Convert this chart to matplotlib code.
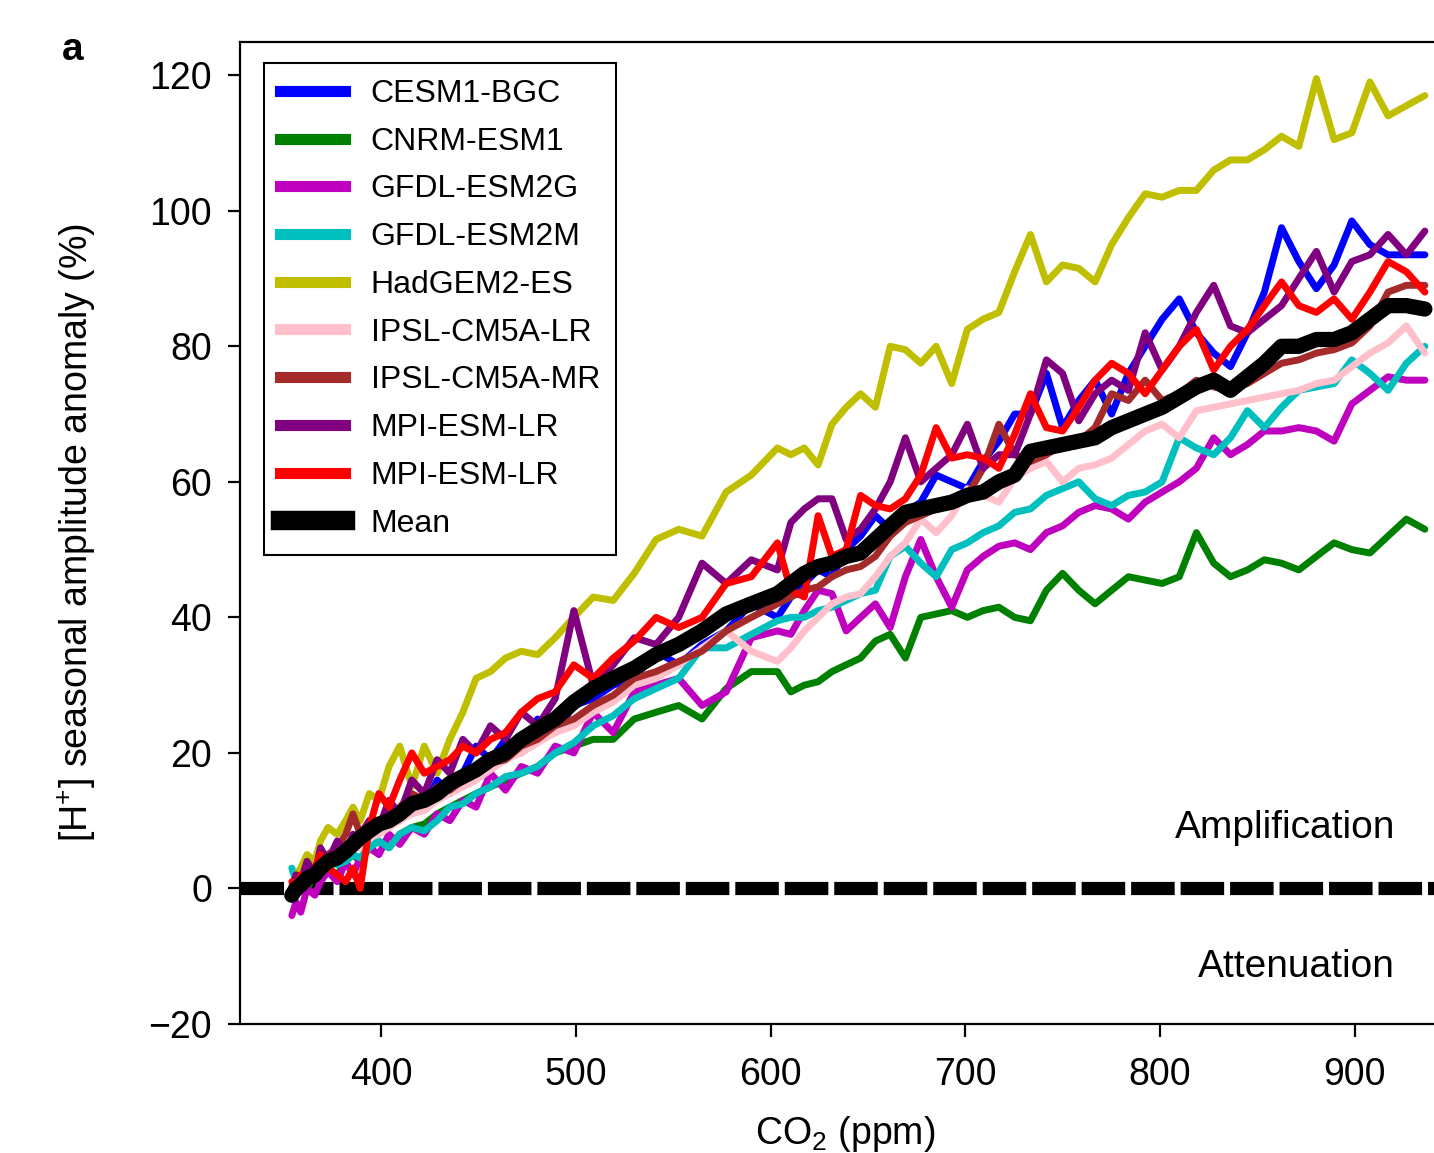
import matplotlib
matplotlib.use('Agg')
import matplotlib.pyplot as plt
from matplotlib.lines import Line2D

plt.rcParams['font.family'] = ['Liberation Sans', 'DejaVu Sans']
plt.rcParams['mathtext.default'] = 'regular'

# ---------------- data ----------------
co2 = [354.2, 356.4, 358.8, 362.0, 366.0, 368.9, 372.8, 377.5, 381.9, 385.6,
       389.3, 394.0, 398.9, 404.1, 409.6, 415.8, 422.2, 428.8, 435.3, 442.0,
       448.8, 456.2, 463.9, 472.0, 480.4, 489.4, 499.0, 508.9, 519.2, 530.0,
       541.2, 552.8, 564.8, 577.2, 590.1, 603.5, 610.4, 617.3, 624.4, 631.5,
       638.8, 646.2, 653.8, 661.4, 669.2, 677.1, 685.0, 693.0, 701.0, 709.1,
       717.2, 725.3, 733.4, 741.6, 749.9, 758.2, 766.6, 775.1, 783.7, 792.3,
       801.0, 809.8, 818.6, 827.5, 836.1, 844.8, 853.5, 862.3, 871.2, 880.2,
       889.3, 898.4, 907.7, 917.0, 926.4, 935.9]

cesm1_bgc = [0, 1, 0, 2, 3, 2.5, 5, 4, 6, 7,
             6.5, 9, 10, 11, 10, 13, 12, 16, 14, 17,
             21, 19, 22, 20, 25, 23, 27, 28, 30, 31,
             35, 33, 36, 38, 42, 40, 43, 45, 47, 46,
             50, 52, 55, 53, 55.5, 57, 61, 60, 59, 63,
             66, 70, 70, 76, 68, 72, 75, 70, 76, 80,
             84, 87, 82, 79, 77, 82, 88, 97.5, 92.5, 88.5,
             92, 98.5, 95, 93.5, 93.5, 93.5]

cnrm_esm1 = [0, -1, 1, 0, 2, 1.5, 3, 2, 4, 5,
             4, 6, 7, 6, 8, 9, 9.5, 11, 12, 13,
             14, 15, 16, 17, 18, 20, 21, 22, 22, 25,
             26, 27, 25, 29.5, 32, 32, 29, 30, 30.5, 32,
             33, 34, 36.5, 37.5, 34, 40, 40.5, 41, 40, 41,
             41.5, 40, 39.5, 44, 46.5, 44, 42, 44, 46, 45.5,
             45, 46, 52.5, 48, 46, 47, 48.5, 48, 47, 49,
             51, 50, 49.5, 52, 54.5, 53]

gfdl_esm2g = [-4, -2, -3.5, 0, -1, 1, 2.5, 1, 4, 2,
              4.5, 6, 5, 8, 6.5, 9, 8, 11, 10, 13,
              12, 17, 14.5, 18, 17, 21, 20, 26, 23, 29,
              30, 31, 27, 29, 37, 38, 37.5, 41, 44, 43.5,
              38, 40, 42, 38.5, 46, 51.5, 46, 41.5, 47, 49,
              50.5, 51, 50, 52.5, 53.5, 55.5, 56.5, 56, 54.5, 57,
              58.5, 60, 62, 66.5, 64, 65.5, 67.5, 67.5, 68, 67.5,
              66, 71.5, 73.5, 75.5, 75, 75]

gfdl_esm2m = [3, 1, 2, 1.5, 3, 2, 4, 3.5, 4, 5,
              4.5, 6, 7, 6, 8, 9, 8.5, 10, 12, 12.5,
              14, 15, 16.5, 17, 18, 20, 21.5, 24, 25.5, 28,
              29.5, 31, 35.5, 35.5, 37.5, 39.5, 40, 40, 41, 41.5,
              42.5, 43.5, 44, 49, 50.5, 48, 46, 50, 51, 52.5,
              53.5, 55.5, 56, 58, 59, 60, 57.5, 56.5, 58, 58.5,
              60, 66.5, 65, 64, 66.5, 70.5, 68, 71, 73.5, 74,
              74.5, 78, 76, 73.5, 77.5, 80]

hadgem2_es = [0.5, 2, 3, 5, 4, 7, 9, 8, 10, 12,
              10, 14, 13, 18, 21, 15, 21, 17, 22, 26,
              31, 32, 34, 35, 34.5, 37, 40, 43, 42.5, 46.5,
              51.5, 53, 52, 58.5, 61, 65, 64, 65, 62.5, 68.5,
              71, 73, 71, 80, 79.5, 77.5, 80, 74.5, 82.5, 84,
              85, 91, 96.5, 89.5, 92, 91.5, 89.5, 95, 99, 102.5,
              102, 103, 103, 106, 107.5, 107.5, 109, 111, 109.5, 119.5,
              110.5, 111.5, 119, 114, 115.5, 117]

ipsl_cm5a_lr = [0, 1, 0.5, 2, 1.5, 3, 3.5, 4, 5, 6,
                6, 7.5, 8, 9, 10, 11, 11.5, 13, 14, 15,
                16, 17.5, 19, 20, 21.5, 23, 24, 26, 27.5, 30,
                31, 33, 35.5, 38, 35, 33.5, 35.5, 38, 40, 42,
                43, 43.5, 46, 49, 51, 54.5, 52.5, 55, 59, 58,
                57, 60.5, 62, 63, 60, 62, 62.5, 63.5, 65.5, 67.5,
                68.5, 66.5, 70.5, 71, 71.5, 72, 72.5, 73, 73.5, 74.5,
                75, 77, 79, 80.5, 83, 79]

ipsl_cm5a_mr = [0, 2, 1, 3, 2.5, 4, 5, 6, 8, 11,
                8, 10, 9, 11, 12, 14, 13, 15, 14.5, 16,
                17, 18.5, 19, 21, 22, 24, 25, 27, 28.5, 31,
                32, 33.5, 35, 38, 40, 42, 43, 44, 44.5, 46,
                47, 47.5, 49, 52, 54, 55, 56, 57, 58, 62,
                68.5, 64, 63, 64, 65.5, 66, 68, 73, 72, 75,
                72, 73, 75, 74, 73.5, 74.5, 76, 77.5, 78, 79,
                79.5, 80.5, 83, 88, 89, 89]

mpi_esm_lr_a = [0, 2, 1, 4, 2, 6, 4, 7, 5, 8,
                7, 10, 9, 13, 11, 16, 14, 19, 17, 22,
                20, 24, 22, 26, 24, 28, 41, 30, 33, 37,
                36, 40, 48, 45, 48.5, 47, 54, 56, 57.5, 57.5,
                51.5, 53, 56, 60, 66.5, 60, 62, 64, 68.5, 62,
                64, 64, 70, 78, 76, 69, 73, 75, 73.5, 82,
                76.5, 80, 85, 89, 83, 82, 84, 86, 90, 94,
                88, 92.5, 93.5, 96.5, 93.5, 97]

mpi_esm_lr_b = [1, 0, 2, 1, 3, 5, 3, 2, 1, 3,
                0, 9, 14, 12, 16, 20, 17, 18, 19, 21,
                20, 22, 23, 26, 28, 29, 33, 31, 34, 36.5,
                40, 38.5, 40, 45, 46, 51, 44, 43, 55, 49,
                50, 58, 56.5, 56, 57.5, 61, 68, 63.5, 64, 63.5,
                62, 67, 73, 68, 67.5, 71, 75, 77.5, 76, 73,
                76.5, 80, 82.5, 76.5, 80, 82.5, 86, 89.5, 86, 85,
                87, 84, 88, 92.5, 91, 88]

ensemble_mean = [-1, 0, 0.5, 1.5, 2, 3, 4, 4.5, 5.5, 6.5,
                 7.5, 8.5, 9.5, 10, 11, 12.5, 13, 14, 15.5, 16.5,
                 17.5, 19, 20, 22, 23.5, 25, 27.5, 29.5, 31, 32.5,
                 34.5, 36, 38, 40.5, 42, 43.5, 45, 46.5, 47.5, 48,
                 49, 49.5, 51.5, 53.5, 55.5, 56, 56.5, 57, 58, 58.5,
                 60, 61, 64.5, 65, 65.5, 66, 66.5, 68, 69, 70,
                 71, 72.5, 74, 75, 73.5, 75.5, 77.5, 80, 80, 81,
                 81, 82, 84, 86, 86, 85.5]

model_names = ['CESM1-BGC', 'CNRM-ESM1', 'GFDL-ESM2G', 'GFDL-ESM2M', 'HadGEM2-ES',
               'IPSL-CM5A-LR', 'IPSL-CM5A-MR', 'MPI-ESM-LR', 'MPI-ESM-LR']
model_values = [cesm1_bgc, cnrm_esm1, gfdl_esm2g, gfdl_esm2m, hadgem2_es,
                ipsl_cm5a_lr, ipsl_cm5a_mr, mpi_esm_lr_a, mpi_esm_lr_b]
model_colors = ['#0000ff', '#008000', '#bf00bf', '#00bfbf', '#bfbf00',
                '#ffc0cb', '#a52a2a', '#800080', '#ff0000']

xticks = [400, 500, 600, 700, 800, 900]
yticks = [-20, 0, 20, 40, 60, 80, 100, 120]

# ---------------- figure ----------------
W, H = 1434, 1153
fig = plt.figure(figsize=(W / 100, H / 100), dpi=100)
ax = fig.add_axes([240 / W, 129 / H, 1210 / W, 982 / H])

ax.axhline(0, color='black', lw=9.5, dashes=(3.3, 0.45), zorder=1)

for vals, col in zip(model_values, model_colors):
    ax.plot(co2, vals, color=col, lw=5.0, solid_joinstyle='round',
            solid_capstyle='round', zorder=2)
ax.plot(co2, ensemble_mean, color='black', lw=11, solid_joinstyle='round',
        solid_capstyle='round', zorder=3)

ax.set_xlim(327.6, 948.8)
ax.set_ylim(-20, 124.9)
ax.set_xticks(xticks)
ax.set_yticks(yticks)
ax.set_yticklabels(['\u221220' if t < 0 else str(t) for t in yticks])

for s in ['left', 'bottom', 'top']:
    ax.spines[s].set_linewidth(1.6)
ax.spines['right'].set_visible(False)
ax.tick_params(axis='both', direction='out', length=9, width=1.6,
               labelsize=27)
ax.tick_params(axis='x', pad=15)
ax.tick_params(axis='y', pad=11)

ax.set_xlabel('CO$_2$ (ppm)', fontsize=27, labelpad=15)
ax.set_ylabel('[H$^{+}$] seasonal amplitude anomaly (%)', fontsize=27)
ax.yaxis.set_label_coords(-0.117, 0.5)

ax.text(920.5, 7.4, 'Amplification', ha='right', va='baseline', fontsize=28)
ax.text(920.5, -13.1, 'Attenuation', ha='right', va='baseline', fontsize=28)

handles = [Line2D([], [], color=c, lw=8) for c in model_colors]
handles.append(Line2D([], [], color='black', lw=14))
labels = model_names + ['Mean']
leg = ax.legend(handles, labels, loc='upper left',
                bbox_to_anchor=((264 - 240) / 1210, (1024 - 63) / 982),
                borderaxespad=0, fontsize=23, frameon=True, fancybox=False,
                framealpha=1, edgecolor='black', handlelength=2.04,
                handletextpad=0.8, labelspacing=0.555, borderpad=0.5)
leg.get_frame().set_linewidth(1.5)

fig.text(62 / W, 1 - 60 / H, 'a', fontsize=28, fontweight='bold',
         ha='left', va='baseline')

fig.savefig('out.png', dpi=100)
